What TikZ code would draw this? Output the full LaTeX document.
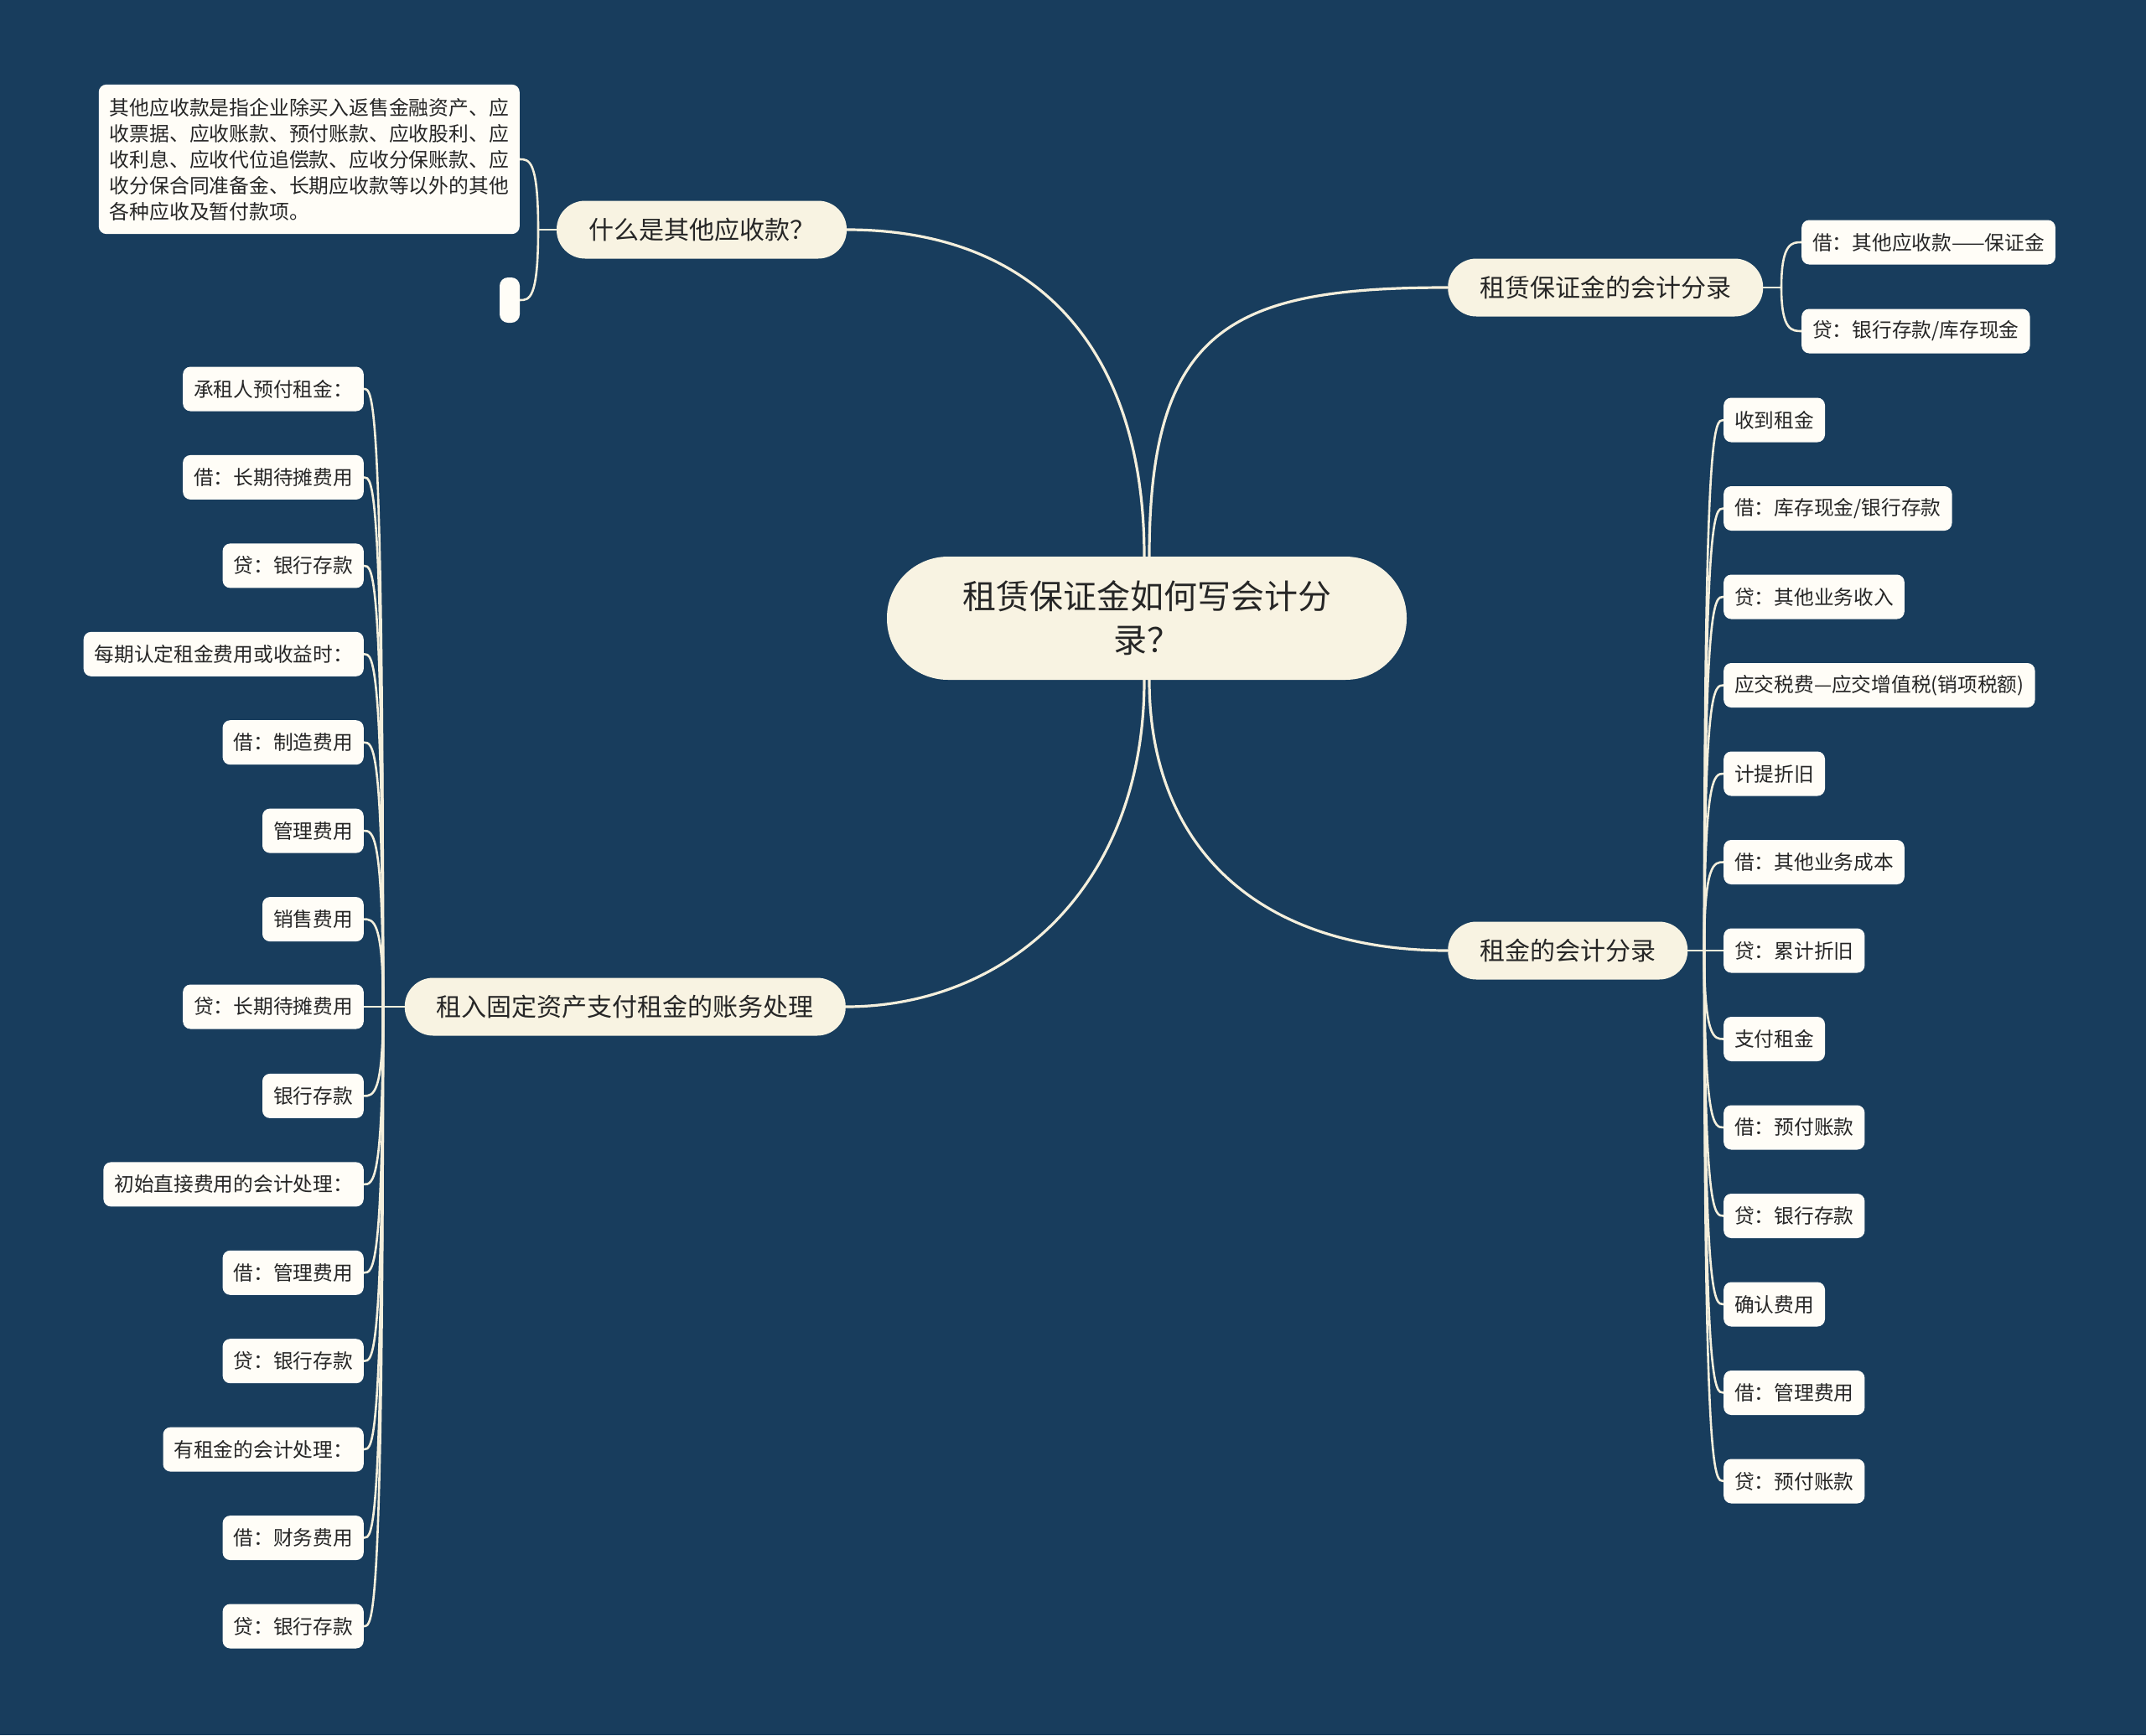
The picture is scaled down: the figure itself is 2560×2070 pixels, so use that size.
\documentclass[tikz,border=0pt]{standalone}
\usepackage{fontspec}
\setmainfont{Noto Sans CJK SC}
\usetikzlibrary{calc,backgrounds}
\definecolor{bg}{HTML}{183D5D}
\definecolor{cream}{HTML}{F8F3E2}
\definecolor{leaffill}{HTML}{FFFDF7}
\definecolor{linec}{HTML}{F4EFDC}
\definecolor{txt}{HTML}{262626}
\newcommand\lleaf[1]{\draw[subline] (Lax) .. controls (Lax |- #1.east) and ($(#1.east)+(11,0)$) .. (#1.east);}
\newcommand\rleaf[1]{\draw[subline] (Rax) .. controls (Rax |- #1.west) and ($(#1.west)+(-11,0)$) .. (#1.west);}
\newcommand\tleaf[1]{\draw[subline] (Tax) .. controls (Tax |- #1.west) and ($(#1.west)+(-11,0)$) .. (#1.west);}
\newcommand\qleaf[1]{\draw[subline] (Qax) .. controls (Qax |- #1.east) and ($(#1.east)+(11,0)$) .. (#1.east);}
\tikzset{
  rootnode/.style={fill=cream, text=txt, rounded corners=73pt, minimum width=620pt, minimum height=147pt, inner sep=0pt, align=center, font=\fontsize{40}{52}\selectfont},
  branchnode/.style={fill=cream, text=txt, rounded corners=34pt, minimum height=69pt, inner xsep=38pt, inner ysep=0pt, font=\fontsize{30}{36}\selectfont},
  leafnode/.style={fill=leaffill, text=txt, rounded corners=9pt, minimum height=53pt, inner xsep=13pt, inner ysep=0pt, font=\fontsize{23.7}{31}\selectfont},
  mainline/.style={draw=linec, line width=3.2pt},
  subline/.style={draw=linec, line width=2.6pt}
}
\begin{document}
\begin{tikzpicture}[x=1pt, y=-1pt]
\useasboundingbox (0,0) rectangle (2560,2070);
% root
\node[rootnode] (root) at (1368,737.5) {租赁保证金如何写会计分\\录？};
% branches
\node[branchnode] (b1) at (837,274) {什么是其他应收款？};
\node[branchnode, anchor=west] (b2) at (1727,343) {租赁保证金的会计分录};
\node[branchnode, anchor=west] (b3) at (1727,1134) {租金的会计分录};
\node[branchnode, anchor=east] (b4) at (1009,1201) {租入固定资产支付租金的账务处理};
% branch 1 children
\node[leafnode, anchor=east, align=left, inner ysep=16pt, font=\fontsize{23.8}{31}\selectfont] (q1) at (620,190) {其他应收款是指企业除买入返售金融资产、应\\收票据、应收账款、预付账款、应收股利、应\\收利息、应收代位追偿款、应收分保账款、应\\收分保合同准备金、长期应收款等以外的其他\\各种应收及暂付款项。};
\node[fill=leaffill, rounded corners=10pt, minimum width=24pt, minimum height=54pt, inner sep=0pt] (q2) at (608,358) {};
% branch 2 children
\node[leafnode, anchor=west] (t1) at (2149,289) {借：其他应收款——保证金};
\node[leafnode, anchor=west] (t2) at (2149,395) {贷：银行存款/库存现金};
% branch 3 children
\node[leafnode, anchor=west] (r1) at (2056,501) {收到租金};
\node[leafnode, anchor=west] (r2) at (2056,606.5) {借：库存现金/银行存款};
\node[leafnode, anchor=west] (r3) at (2056,712) {贷：其他业务收入};
\node[leafnode, anchor=west] (r4) at (2056,817.5) {应交税费—应交增值税(销项税额)};
\node[leafnode, anchor=west] (r5) at (2056,923) {计提折旧};
\node[leafnode, anchor=west] (r6) at (2056,1028.5) {借：其他业务成本};
\node[leafnode, anchor=west] (r7) at (2056,1134) {贷：累计折旧};
\node[leafnode, anchor=west] (r8) at (2056,1239.5) {支付租金};
\node[leafnode, anchor=west] (r9) at (2056,1345) {借：预付账款};
\node[leafnode, anchor=west] (r10) at (2056,1450.5) {贷：银行存款};
\node[leafnode, anchor=west] (r11) at (2056,1556) {确认费用};
\node[leafnode, anchor=west] (r12) at (2056,1661.5) {借：管理费用};
\node[leafnode, anchor=west] (r13) at (2056,1767) {贷：预付账款};
% branch 4 children
\node[leafnode, anchor=east] (l1) at (434,464) {承租人预付租金：};
\node[leafnode, anchor=east] (l2) at (434,569.4) {借：长期待摊费用};
\node[leafnode, anchor=east] (l3) at (434,674.9) {贷：银行存款};
\node[leafnode, anchor=east] (l4) at (434,780.3) {每期认定租金费用或收益时：};
\node[leafnode, anchor=east] (l5) at (434,885.7) {借：制造费用};
\node[leafnode, anchor=east] (l6) at (434,991.1) {管理费用};
\node[leafnode, anchor=east] (l7) at (434,1096.6) {销售费用};
\node[leafnode, anchor=east] (l8) at (434,1201) {贷：长期待摊费用};
\node[leafnode, anchor=east] (l9) at (434,1307.4) {银行存款};
\node[leafnode, anchor=east] (l10) at (434,1412.9) {初始直接费用的会计处理：};
\node[leafnode, anchor=east] (l11) at (434,1518.3) {借：管理费用};
\node[leafnode, anchor=east] (l12) at (434,1623.7) {贷：银行存款};
\node[leafnode, anchor=east] (l13) at (434,1729.1) {有租金的会计处理：};
\node[leafnode, anchor=east] (l14) at (434,1834.6) {借：财务费用};
\node[leafnode, anchor=east] (l15) at (434,1940) {贷：银行存款};
% axis points
\coordinate (Qax) at (642,274);
\coordinate (Tax) at (2125,343);
\coordinate (Rax) at (2033,1134);
\coordinate (Lax) at (457,1201);
\coordinate (rt1) at ($(root.north)+(-3,0)$);
\coordinate (rt2) at ($(root.north)+(3,0)$);
\coordinate (rb1) at ($(root.south)+(-3,0)$);
\coordinate (rb2) at ($(root.south)+(3,0)$);
\begin{pgfonlayer}{background}
\fill[bg] (0,0) rectangle (2560,2070);
% main connectors
\draw[mainline] (rt1) .. controls (1365,420) and (1240,274) .. (b1.east);
\draw[mainline] (rt2) .. controls (1371,390) and (1470,343) .. (b2.west);
\draw[mainline] (rb1) .. controls (1365,1060) and (1200,1201) .. (b4.east);
\draw[mainline] (rb2) .. controls (1371,1010) and (1500,1134) .. (b3.west);
% branch stems
\draw[subline] (b1.west) -- (Qax);
\draw[subline] (b2.east) -- (Tax);
\draw[subline] (b3.east) -- (Rax);
\draw[subline] (b4.west) -- (Lax);
% leaves
\qleaf{q1} \qleaf{q2}
\tleaf{t1} \tleaf{t2}
\foreach \i in {1,...,13} {\rleaf{r\i}}
\foreach \i in {1,...,15} {\lleaf{l\i}}
\end{pgfonlayer}
\end{tikzpicture}
\end{document}
